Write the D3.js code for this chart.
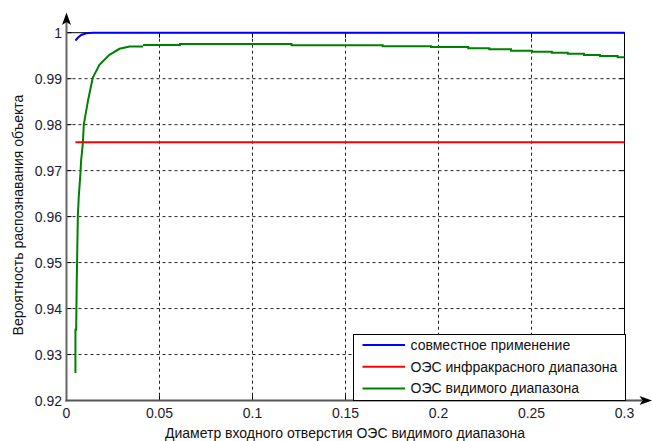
<!DOCTYPE html>
<html>
<head>
<meta charset="utf-8">
<script src="https://cdn.jsdelivr.net/npm/d3@7"></script>
<style>
  body { margin: 0; background: #fff; }
  svg { display: block; font-family: "Liberation Sans", Arial, sans-serif; }
  .grid line { stroke: #222; stroke-dasharray: 3,3; stroke-width: 1; }
  .tick-label { font-size: 14px; fill: #1a1a30; }
</style>
</head>
<body>
<svg width="652" height="441"></svg>
<script>
(function() {
  // values
  const xTicks = [0, 0.05, 0.1, 0.15, 0.2, 0.25, 0.3];
  const yTicks = [0.92, 0.93, 0.94, 0.95, 0.96, 0.97, 0.98, 0.99, 1];

  const seriesNames = [
    "совместное применение",
    "ОЭС инфракрасного диапазона",
    "ОЭС видимого диапазона"
  ];
  const seriesColors = ["#0000ff", "#ff0000", "#008000"];

  const blue = [
    [0.0048, 0.9983], [0.0061, 0.9989], [0.0079, 0.9995],
    [0.0106, 0.99987], [0.0144, 1], [0.3, 1]
  ];

  const red = [[0.0048, 0.97616], [0.3, 0.97616]];

  const greenRise = [
    [0.0048, 0.926], [0.0048, 0.9354], [0.0052, 0.9354], [0.0055, 0.9456],
    [0.0061, 0.9601], [0.0066, 0.9644], [0.0074, 0.9688], [0.0079, 0.9724],
    [0.0082, 0.9735], [0.0088, 0.9760], [0.0093, 0.9800], [0.0115, 0.9851],
    [0.0141, 0.9902], [0.0177, 0.9930], [0.0231, 0.9952], [0.0285, 0.9965],
    [0.0339, 0.9970], [0.0411, 0.9970]
  ];

  // flat part of the green curve is a staircase
  const greenSteps = [
    [0.0411, 0.9973], [0.061, 0.99755], [0.121, 0.99728], [0.170, 0.99706],
    [0.196, 0.99689], [0.216, 0.99661], [0.2273, 0.99639], [0.239, 0.99608],
    [0.2503, 0.99587], [0.2609, 0.99565], [0.2695, 0.99543], [0.2782, 0.99515],
    [0.2868, 0.99494], [0.2963, 0.99465], [0.3, 0.99465]
  ];

  const svg = d3.select("svg");
  svg.append("rect").attr("width", 652).attr("height", 441).attr("fill", "#fff");

  const left = 66.5, right = 624.5, top = 32.7, bottom = 400.5;

  const x = d3.scaleLinear().domain([0, 0.3]).range([left, right]);
  const y = d3.scaleLinear().domain([0.92, 1]).range([bottom, top]);

  // grid
  const grid = svg.append("g").attr("class", "grid");
  grid.selectAll(".gx")
    .data(xTicks.slice(1, -1))
    .enter().append("line")
    .attr("x1", d => x(d)).attr("x2", d => x(d))
    .attr("y1", top).attr("y2", bottom);
  grid.selectAll(".gy")
    .data(yTicks.slice(1, -1))
    .enter().append("line")
    .attr("x1", left).attr("x2", right)
    .attr("y1", d => y(d)).attr("y2", d => y(d));

  // ticks inside the box
  const ticks = svg.append("g").attr("stroke", "#000").attr("stroke-width", 1);
  yTicks.forEach(d => {
    ticks.append("line").attr("x1", left).attr("x2", left + 5).attr("y1", y(d)).attr("y2", y(d));
    ticks.append("line").attr("x1", right - 5).attr("x2", right).attr("y1", y(d)).attr("y2", y(d));
  });
  xTicks.forEach(d => {
    ticks.append("line").attr("x1", x(d)).attr("x2", x(d)).attr("y1", bottom).attr("y2", bottom - 5);
    ticks.append("line").attr("x1", x(d)).attr("x2", x(d)).attr("y1", top).attr("y2", top + 5);
  });

  // box top and right
  svg.append("path")
    .attr("d", `M${left},${top}H${right}V${bottom}`)
    .attr("fill", "none").attr("stroke", "#000").attr("stroke-width", 1);

  // data lines
  const line = d3.line().x(d => x(d[0])).y(d => y(d[1]));
  const stepLine = d3.line().x(d => x(d[0])).y(d => y(d[1])).curve(d3.curveStepAfter);

  const plot = svg.append("g").attr("fill", "none").attr("stroke-width", 2);
  plot.append("path").datum(greenRise).attr("d", line).attr("stroke", seriesColors[2]);
  plot.append("path").datum(greenSteps).attr("d", stepLine).attr("stroke", seriesColors[2]);
  plot.append("path").datum(red).attr("d", line).attr("stroke", seriesColors[1]);
  plot.append("path").datum(blue).attr("d", line).attr("stroke", seriesColors[0]);

  // axes with arrows
  svg.append("line")
    .attr("x1", left).attr("x2", left).attr("y1", 22).attr("y2", bottom + 1)
    .attr("stroke", "#666").attr("stroke-width", 2);
  svg.append("line")
    .attr("x1", left - 1).attr("x2", 642).attr("y1", bottom).attr("y2", bottom)
    .attr("stroke", "#555").attr("stroke-width", 2);
  svg.append("path")
    .attr("d", `M${left},12.5L${left - 4.5},25L${left},22L${left + 4.5},25Z`)
    .attr("fill", "#000");
  svg.append("path")
    .attr("d", `M652,${bottom}L639.5,${bottom - 4.5}L642.5,${bottom}L639.5,${bottom + 4.5}Z`)
    .attr("fill", "#000");

  // tick labels
  svg.append("g").selectAll("text")
    .data(yTicks)
    .enter().append("text")
    .attr("class", "tick-label")
    .attr("x", 62).attr("y", d => y(d) + 5)
    .attr("text-anchor", "end")
    .text(d => d3.format("")(d));
  svg.append("g").selectAll("text")
    .data(xTicks)
    .enter().append("text")
    .attr("class", "tick-label")
    .attr("x", d => x(d)).attr("y", 418)
    .attr("text-anchor", "middle")
    .text(d => d3.format("")(d));

  // axis titles
  svg.append("text")
    .attr("x", 345).attr("y", 438)
    .attr("text-anchor", "middle")
    .attr("font-size", 14).attr("fill", "#111")
    .text("Диаметр входного отверстия ОЭС видимого диапазона");
  svg.append("text")
    .attr("transform", "translate(23,215) rotate(-90)")
    .attr("text-anchor", "middle")
    .attr("font-size", 14).attr("fill", "#111")
    .text("Вероятность распознавания объекта");

  // legend
  const lg = svg.append("g");
  lg.append("rect")
    .attr("x", 353.5).attr("y", 334.5).attr("width", 272).attr("height", 66)
    .attr("fill", "#fff").attr("stroke", "#000");
  const rows = lg.selectAll(".row")
    .data(seriesNames)
    .enter().append("g")
    .attr("transform", (d, i) => `translate(0,${345 + i * 21.7})`);
  rows.append("line")
    .attr("x1", 362.5).attr("x2", 405).attr("y1", 0).attr("y2", 0)
    .attr("stroke", (d, i) => seriesColors[i]).attr("stroke-width", 2);
  rows.append("text")
    .attr("x", 410.5).attr("y", 5)
    .attr("font-size", 14).attr("fill", "#111")
    .text(d => d);
})();
</script>
</body>
</html>
